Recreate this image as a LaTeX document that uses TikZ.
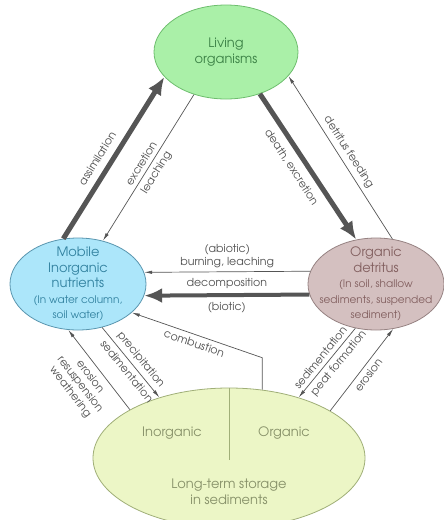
\documentclass[tikz,border=0pt]{standalone}
\usepackage{fontspec}
\setmainfont{texgyreadventor}[Extension=.otf, UprightFont=*-regular]
\usetikzlibrary{arrows.meta,shapes.geometric}
\definecolor{livfill}{RGB}{170,240,168}
\definecolor{livline}{RGB}{110,190,110}
\definecolor{livtext}{RGB}{60,130,70}
\definecolor{mobfill}{RGB}{172,230,250}
\definecolor{mobline}{RGB}{90,150,175}
\definecolor{mobtext}{RGB}{50,130,160}
\definecolor{detfill}{RGB}{212,192,192}
\definecolor{detline}{RGB}{150,130,130}
\definecolor{dettext}{RGB}{130,95,95}
\definecolor{stfill}{RGB}{236,246,198}
\definecolor{stline}{RGB}{160,175,120}
\definecolor{sttext}{RGB}{135,145,105}
\definecolor{arr}{RGB}{85,85,85}
\definecolor{lbl}{RGB}{80,80,80}
\newcommand{\smalltxt}[1]{{\fontsize{10.5}{13}\selectfont #1}}

\begin{document}
\begin{tikzpicture}[x=1pt, y=-1pt,
  blob/.style={ellipse, draw, line width=0.8pt, inner sep=0pt},
  intxt/.style={align=center, font=\fontsize{13}{15.5}\selectfont},
  minor/.style={draw=arr, line width=0.7pt, -{Latex[length=8pt,width=3.5pt]}},
  major/.style={draw=arr, line width=5pt, -{Latex[length=18pt,width=15pt]}},
  lab/.style={text=lbl, font=\fontsize{11}{12.5}\selectfont, inner sep=4pt},
  biglab/.style={lab, inner sep=7pt}]
  \useasboundingbox (0,0) rectangle (444,520);
  \clip (0,0) rectangle (444,520);

  % the four pools
  \node[blob, fill=livfill, draw=livline, minimum width=144, minimum height=94,
        intxt, text=livtext] (liv) at (226,52) {Living\\organisms};
  \node[blob, fill=mobfill, draw=mobline, minimum width=136, minimum height=92] (mob) at (78,284) {};
  \node[intxt, text=mobtext] (mobt) at (mob) {Mobile\\Inorganic\\nutrients\\\smalltxt{(In water column,}\\\smalltxt{soil water)}};
  \node[blob, fill=detfill, draw=detline, minimum width=136, minimum height=92] (det) at (376,284) {};
  \node[intxt, text=dettext] (dett) at (det) {Organic\\detritus\\\smalltxt{(In soil, shallow}\\\smalltxt{sediments, suspended}\\\smalltxt{sediment)}};
  \node[blob, fill=stfill, draw=stline, minimum width=272, minimum height=140] (st) at (229,458) {};
  \draw[stline, line width=0.8pt] (st.north) -- ++(0,72);
  \node[intxt, text=sttext] (inorg) at (172,433) {Inorganic};
  \node[intxt, text=sttext] (org) at (284,433) {Organic};
  \node[intxt, text=sttext] (lts) at (229,492) {Long-term storage\\in sediments};

  % fluxes
  \draw[major] (mob.108) -- (liv.202) node[biglab, pos=0.45, sloped, above]{assimilation};
  \draw[minor] (liv.233.5) -- (mob.60.1) node[lab, midway, sloped, above]{excretion}
    node[lab, midway, sloped, below]{leaching};
  \draw[major] (liv.309) -- (det.114.5) node[biglab, pos=0.45, sloped, below]{death, excretion};
  \draw[minor] (det.70) -- (liv.339) node[lab, pos=0.5, sloped, above]{detritus feeding};
  \draw[minor] (det.169.64) -- (mob.10.36) node[lab, midway, above, align=center]{(abiotic)\\burning, leaching};
  \draw[major, line width=4pt] (det.189.45) -- (mob.350.55) node[biglab, midway, above, inner sep=5pt]{decomposition}
    node[biglab, midway, below, inner sep=5pt]{(biotic)};
  \draw[minor] (st.64.1) -- ++(0,-32) -- (mob.332.4) node[lab, midway, sloped, below]{combustion};
  \draw[minor] (st.154.6) -- (mob.258) node[lab, pos=0.5, sloped, below, align=center, inner sep=6pt]{erosion\\resuspension\\weathering};
  \draw[minor] (mob.299.6) -- (st.139) node[lab, pos=0.55, sloped, above]{precipitation}
    node[lab, pos=0.55, sloped, below]{sedimentation};
  \draw[minor] (det.245.5) -- (st.41) node[lab, midway, sloped, above]{sedimentation}
    node[lab, pos=0.42, sloped, below]{peat formation};
  \draw[minor] (st.25.9) -- (det.291) node[lab, pos=0.5, sloped, below]{erosion};
\end{tikzpicture}
\end{document}
